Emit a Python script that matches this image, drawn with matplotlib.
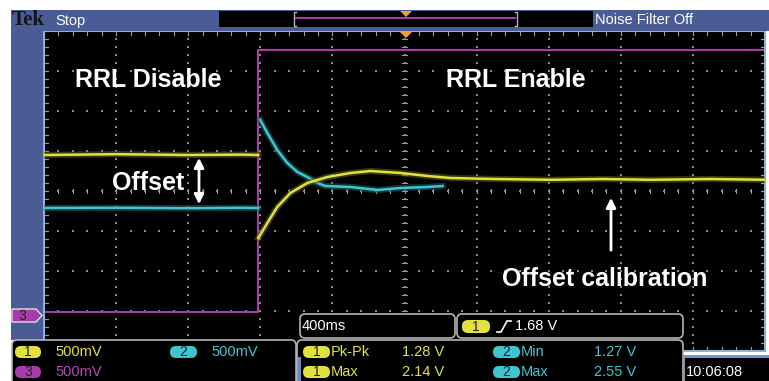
import numpy as np
import matplotlib.pyplot as plt
from matplotlib.patches import Rectangle, FancyBboxPatch, Polygon

nan = np.nan
# time in ms relative to trigger (400 ms/div), amplitude in divisions from centre
ch1_t = [-2000, -1600, -1200, -900, -812, -811, -811, -761, -706, -633, -539, -428,
         -300, -189, -22, 128, 256, 500, 811, 1100, 1367, 1700, 2000]
ch1_v = [0.9, 0.92, 0.9, 0.91, 0.9, nan, -1.175, -0.8, -0.4, -0.05, 0.2, 0.35,
         0.45, 0.5, 0.45, 0.375, 0.325, 0.3, 0.28, 0.3, 0.28, 0.3, 0.28]

ch2_t = [-2000, -1600, -1200, -900, -812, -806, -800, -761, -706, -650, -594, -539,
         -483, -439, -300, -150, -22, 128, 211]
ch2_v = [-0.425, -0.42, -0.43, -0.42, -0.425, nan, 1.775, 1.45, 1.025, 0.7, 0.475,
         0.35, 0.2, 0.125, 0.1, 0.025, 0.075, 0.1, 0.125]

ch3_t = [-2000, -811, -811, 2000]
ch3_v = [-3.025, -3.025, 3.525, 3.525]

scales = ["500mV", "500mV", "500mV"]
timebase = "400ms"
trig_level = "1.68 V"
meas_ch1 = [("Pk-Pk", "1.28 V"), ("Max", "2.14 V")]
meas_ch2 = [("Min", "1.27 V"), ("Max", "2.55 V")]
clock = "10:06:08"

YEL = "#e2e23e"
CYA = "#3ec6d0"
PUR = "#a83ca8"
BLUE = "#4b5b96"
GREY = "#b4b4b4"
UI = "Liberation Sans"
FS = 10.5

fig = plt.figure(figsize=(7.69, 3.81), dpi=100, facecolor="white")

# scope screen
ax = fig.add_axes([44 / 769, 30 / 381, 721 / 769, 320 / 381], zorder=1)
ax.set_facecolor("black")
ax.set_xlim(-2000, 2000)
ax.set_ylim(-4, 4)
ax.set_xticks([])
ax.set_yticks([])
for s in ax.spines.values():
    s.set_color("#8cb4d2")
    s.set_linewidth(1.5)

# dotted graticule
gx, gy = [], []
for k in range(-5, 6):
    for j in np.arange(-4, 4.01, 0.2):
        gx.append(k * 400); gy.append(j)
for m in range(-4, 5):
    for i in np.arange(-2000, 2001, 80):
        gx.append(i); gy.append(m)
ax.scatter(gx, gy, s=1.2, marker="s", color="#8a8a8a", linewidths=0, zorder=1)
# edge and centre ticks
for i in np.arange(-2000, 2001, 80):
    ax.plot([i, i], [3.9, 4], color="#9a9a9a", lw=0.8, zorder=1)
    ax.plot([i, i], [-4, -3.9], color="#9a9a9a", lw=0.8, zorder=1)
    ax.plot([i, i], [-0.06, 0.06], color="#9a9a9a", lw=0.8, zorder=1)
for j in np.arange(-4, 4.01, 0.2):
    ax.plot([-2000, -1978], [j, j], color="#9a9a9a", lw=0.8, zorder=1)
    ax.plot([1978, 2000], [j, j], color="#9a9a9a", lw=0.8, zorder=1)
    ax.plot([-16, 16], [j, j], color="#9a9a9a", lw=0.8, zorder=1)

ax.plot(ch3_t, ch3_v, color=PUR, lw=1.5, zorder=2)
ax.plot(ch2_t, ch2_v, color="#1c5a60", lw=4.5, alpha=0.6, zorder=3)
ax.plot(ch2_t, ch2_v, color=CYA, lw=1.8, zorder=3)
ax.plot(ch1_t, ch1_v, color="#5a5a18", lw=4.5, alpha=0.6, zorder=4)
ax.plot(ch1_t, ch1_v, color=YEL, lw=1.8, zorder=4)

# overlay in pixel coordinates
ov = fig.add_axes([0, 0, 1, 1], zorder=3)
ov.set_xlim(0, 769)
ov.set_ylim(381, 0)
ov.patch.set_alpha(0)
ov.axis("off")

ov.add_patch(Rectangle((11, 10), 758, 21, color=BLUE, lw=0))
ov.add_patch(Rectangle((11, 31), 32, 309, color=BLUE, lw=0))
ov.text(12, 20, "Tek", family="Liberation Serif", weight="bold", size=15,
        color="#151515", va="center")
ov.text(55, 21, "Stop", family=UI, size=FS, color="white", va="center")
ov.add_patch(Rectangle((219, 11), 74, 16, color="black", lw=0))
ov.add_patch(Rectangle((293, 11), 227, 16, color="black", lw=0))
ov.plot([296, 294, 294, 296], [12, 12, 26, 26], color=GREY, lw=1)
ov.plot([515, 517, 517, 515], [12, 12, 26, 26], color=GREY, lw=1)
ov.plot([296, 515], [18, 18], color=PUR, lw=1.5)
ov.add_patch(Polygon([(400, 11), (412, 11), (406, 17)], color="#f0a030", lw=0))
ov.add_patch(Rectangle((520, 11), 73, 16, color="black", lw=0))
ov.text(595, 20, "Noise Filter Off", family=UI, size=FS, color="white", va="center")
ov.add_patch(Polygon([(400, 32), (412, 32), (406, 38)], color="#f0a030", lw=0))

# channel 3 ground marker
ov.add_patch(Polygon([(12, 309), (36, 309), (42, 315.5), (36, 322), (12, 322)],
                     facecolor=PUR, edgecolor="#dddddd", lw=1))
ov.text(22, 316, "3", family=UI, size=10, color="#222222", ha="center", va="center")


def pill(x, y, w, h, color, label):
    ov.add_patch(FancyBboxPatch((x, y), w, h, boxstyle="round,pad=0,rounding_size=6",
                                facecolor=color, edgecolor="none"))
    ov.text(x + w / 2, y + h / 2 + 0.5, label, family=UI, size=10, color="#222222",
            ha="center", va="center")


def box(x, y, w, h):
    ov.add_patch(FancyBboxPatch((x, y), w, h, boxstyle="round,pad=0,rounding_size=5",
                                facecolor="black", edgecolor=GREY, lw=1.2))


# bottom panels
box(12, 340, 284, 60)
pill(15, 346, 26, 12, YEL, "1")
ov.text(55, 352, scales[0], family=UI, size=FS, color=YEL, va="center")
pill(170, 346, 27, 12, CYA, "2")
ov.text(211, 352, scales[1], family=UI, size=FS, color=CYA, va="center")
pill(15, 366, 26, 12, PUR, "3")
ov.text(55, 372, scales[2], family=UI, size=FS, color="#b848b8", va="center")

box(297, 340, 386, 60)
ov.add_patch(Rectangle((298, 357), 2.5, 24, color="#6a8cc0", lw=0))
for row, y in enumerate([352, 372]):
    pill(303, y - 6, 27, 12, YEL, "1")
    ov.text(331, y, meas_ch1[row][0], family=UI, size=FS, color=YEL, va="center")
    ov.text(402, y, meas_ch1[row][1], family=UI, size=FS, color=YEL, va="center")
    pill(493, y - 6, 27, 12, CYA, "2")
    ov.text(521, y, meas_ch2[row][0], family=UI, size=FS, color=CYA, va="center")
    ov.text(594, y, meas_ch2[row][1], family=UI, size=FS, color=CYA, va="center")

box(300, 314, 155, 24)
ov.text(302, 326, timebase, family=UI, size=FS, color="white", va="center")
box(457, 314, 226, 24)
pill(462, 320, 28, 13, YEL, "1")
ov.plot([497, 501, 507, 511], [332, 332, 321, 321], color="white", lw=1.2)
ov.text(515, 326, trig_level, family=UI, size=FS, color="white", va="center")

ov.add_patch(Rectangle((683, 355), 86, 3, color="#6a9ad0", lw=0))
ov.add_patch(Rectangle((683, 358), 86, 23, color="black", lw=0))
ov.plot([684, 684], [358, 381], color=GREY, lw=1.2)
ov.text(686, 372, clock, family=UI, size=FS, color="white", va="center")

# annotations
ann = dict(family="Liberation Sans", weight="bold", size=18, color="white",
           ha="center", va="center")
ov.text(148, 80, "RRL Disable", **ann)
ov.text(516, 80, "RRL Enable", **ann)
ov.text(148, 183, "Offset", **ann)
ov.text(605, 279, "Offset calibration", **ann)
ov.annotate("", xy=(199, 155), xytext=(199, 207),
            arrowprops=dict(arrowstyle="<|-|>", color="white", lw=2, mutation_scale=14))
ov.annotate("", xy=(611, 195), xytext=(611, 253),
            arrowprops=dict(arrowstyle="-|>", color="white", lw=2, mutation_scale=14))

fig.savefig("out.png", dpi=100, facecolor="white")
